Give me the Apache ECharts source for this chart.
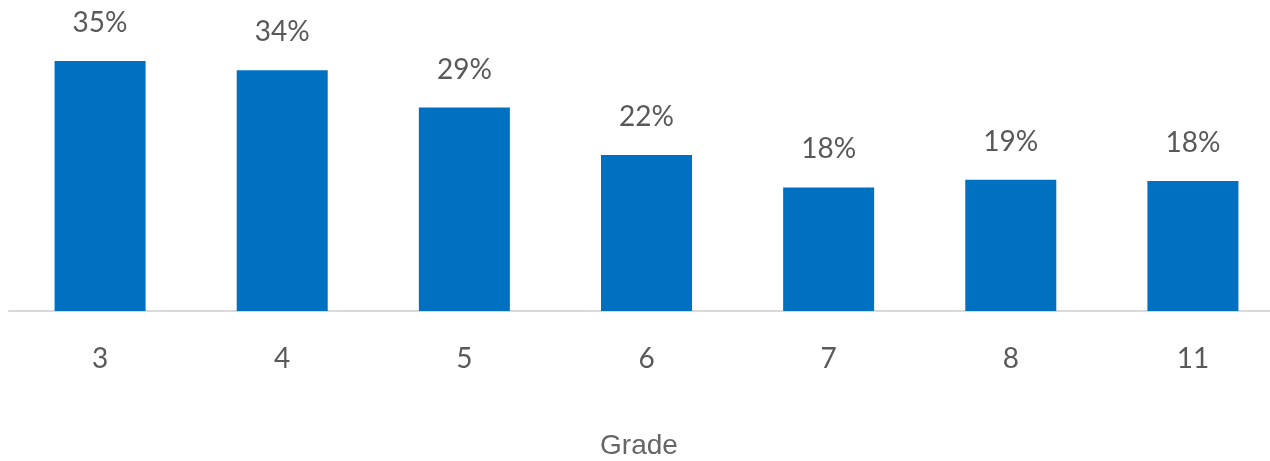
<!DOCTYPE html>
<html>
<head>
<meta charset="utf-8">
<script src="https://cdn.jsdelivr.net/npm/echarts@6/dist/echarts.min.js"></script>
<style>html,body{margin:0;padding:0;background:#fff;}#c{width:1270px;height:461px;}</style>
</head>
<body>
<div id="c"></div>
<script>
var categories = ['3', '4', '5', '6', '7', '8', '11'];
var values = [35.4, 34.1, 28.8, 22.1, 17.5, 18.6, 18.4];
var valueLabels = ['35%', '34%', '29%', '22%', '18%', '19%', '18%'];
var axisTitle = 'Grade';

var chart = echarts.init(document.getElementById('c'));
chart.setOption({
  animation: false,
  grid: { left: 9, right: -14, top: 28.5, bottom: 150, containLabel: false, outerBoundsMode: 'none' },
  xAxis: {
    type: 'category',
    data: categories,
    axisLine: { show: true, lineStyle: { color: '#d9d9d9', width: 2 } },
    axisTick: { show: false },
    axisLabel: { color: '#595959', fontFamily: 'Lato', fontSize: 28, margin: 34 }
  },
  yAxis: {
    type: 'value', min: 0, max: 40,
    show: false, splitLine: { show: false }
  },
  series: [{
    type: 'bar',
    data: values,
    barWidth: 91,
    itemStyle: { color: '#0070C0' },
    label: {
      show: true, position: 'top', distance: 24,
      color: '#595959', fontFamily: 'Lato', fontSize: 28,
      formatter: function (p) { return valueLabels[p.dataIndex]; }
    }
  }],
  graphic: [{
    type: 'text',
    x: 639, y: 446,
    style: { text: axisTitle, fill: '#666666', font: '28px "Liberation Sans", Arial', align: 'center', verticalAlign: 'middle' }
  }]
});
</script>
</body>
</html>
